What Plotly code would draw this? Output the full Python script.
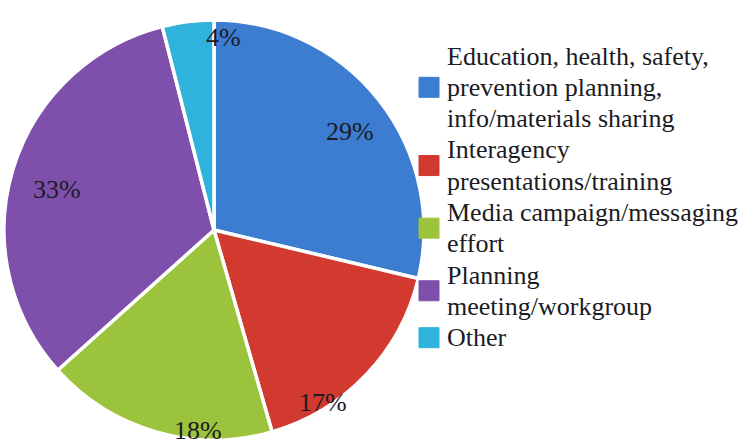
import math
import plotly.graph_objects as go

# Share of activities by type (percent)
categories = [
    "Education, health, safety,\nprevention planning,\ninfo/materials sharing",
    "Interagency\npresentations/training",
    "Media campaign/messaging\neffort",
    "Planning\nmeeting/workgroup",
    "Other",
]
values = [29, 17, 18, 33, 4]
colors = ["#3C7CD1", "#D2392F", "#9CC33C", "#7E50AB", "#2FB3DC"]

W, H = 747, 448
FONT = "'Liberation Serif', 'Times New Roman', serif"
TEXT_COLOR = "#1b1b24"


def px_x(x):
    return x / W


def px_y(y):
    return 1 - y / H


# Pie placement (pixels)
cx, cy, r = 214, 230, 210

fig = go.Figure(
    go.Pie(
        labels=[c.replace("\n", " ") for c in categories],
        values=values,
        sort=False,
        direction="clockwise",
        rotation=0,
        marker=dict(colors=colors, line=dict(color="white", width=3.5)),
        textinfo="none",
        hoverinfo="label+value",
        showlegend=False,
        domain=dict(
            x=[px_x(cx - r), px_x(cx + r)],
            y=[px_y(cy + r), px_y(cy - r)],
        ),
    )
)

annotations = []
shapes = []

# Percentage labels: placed along each slice's angle, nudged per slice
# (angle shift in degrees, fraction of radius)
label_place = [(2.5, 0.80), (14.0, 0.97), (-11.5, 0.96), (-2.5, 0.77), (10.0, 0.92)]
total = sum(values)
start = 0.0
for v, (shift, frac) in zip(values, label_place):
    mid = (start + v / 2) / total * 360 + shift
    start += v
    a = math.radians(mid)
    lx = cx + frac * r * math.sin(a)
    ly = cy - frac * r * math.cos(a)
    annotations.append(
        dict(
            x=px_x(lx),
            y=px_y(ly),
            xref="paper",
            yref="paper",
            xanchor="center",
            yanchor="middle",
            text=f"{v}%",
            showarrow=False,
            font=dict(family=FONT, size=26, color=TEXT_COLOR),
        )
    )

# Legend: colour swatch + wrapped label lines
line_gap = 31.3
first_baseline = 65
text_x = 445
sw_x0, sw_size = 419, 20

line_idx = 0
for cat, col in zip(categories, colors):
    lines = cat.split("\n")
    baselines = []
    for ln in lines:
        base = first_baseline + line_idx * line_gap
        baselines.append(base)
        annotations.append(
            dict(
                x=px_x(text_x),
                y=px_y(base - 9),
                xref="paper",
                yref="paper",
                xanchor="left",
                yanchor="middle",
                text=ln,
                showarrow=False,
                font=dict(family=FONT, size=26, color=TEXT_COLOR),
            )
        )
        line_idx += 1
    mid = sum(baselines) / len(baselines) - 9
    shapes.append(
        dict(
            type="rect",
            xref="paper",
            yref="paper",
            x0=px_x(sw_x0),
            x1=px_x(sw_x0 + sw_size),
            y0=px_y(mid + sw_size / 2),
            y1=px_y(mid - sw_size / 2),
            fillcolor=col,
            line=dict(color=col, width=1),
        )
    )

fig.update_layout(
    width=W,
    height=H,
    margin=dict(l=0, r=0, t=0, b=0),
    paper_bgcolor="white",
    plot_bgcolor="white",
    annotations=annotations,
    shapes=shapes,
)

fig.write_html("out.html")
